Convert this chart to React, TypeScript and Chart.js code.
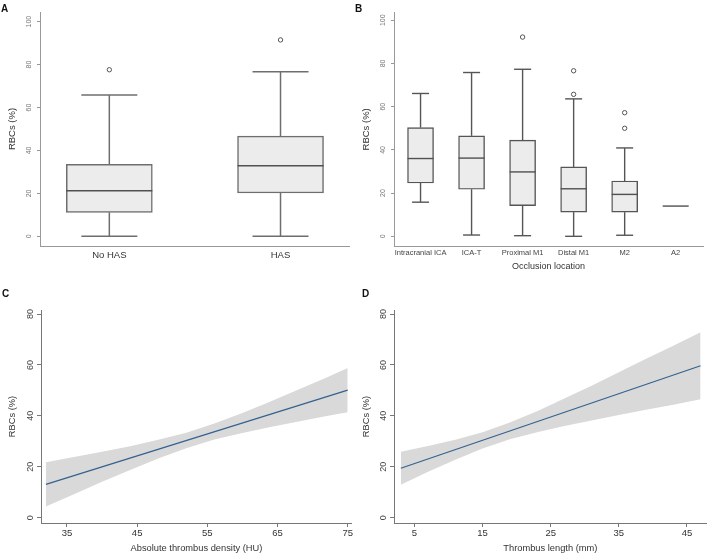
import React, { useEffect, useRef } from 'react';
import { Chart, registerables } from 'chart.js';

Chart.register(...registerables);

const FONT = '"Liberation Sans", Arial, Helvetica, sans-serif';

// ---------- Panel A : HAS ----------
const groupsA = ['No HAS', 'HAS'];
const minA = [0, 0];
const q1A = [11.2, 20.2];
const medA = [21.2, 32.9];
const q3A = [33.5, 46.7];
const maxA = [65.8, 76.7];
const outlierPosA = [1, 2];
const outlierValA = [77.6, 91.5];

// ---------- Panel B : occlusion location ----------
const locationsB = ['Intracranial ICA', 'ICA-T', 'Proximal M1', 'Distal M1', 'M2', 'A2'];
const minB = [15.8, 0.6, 0.3, 0, 0.5, 14];
const q1B = [24.7, 21.8, 14.2, 11.2, 11.2, 14];
const medB = [36, 36.2, 29.8, 22, 19.4, 14];
const q3B = [50.3, 46.5, 44.5, 32.1, 25.6, 14];
const maxB = [66.1, 75.8, 77.3, 63.6, 40.9, 14];
const outlierPosB = [3, 4, 4, 5, 5];
const outlierValB = [92.2, 76.6, 65.7, 57.2, 50.0];

const boxYTicks = [0, 20, 40, 60, 80, 100];

// ---------- Panel C : density ----------
const densityX = [32, 36, 40, 44, 48, 52, 56, 60, 64, 68, 72, 75];
const densityUpper = [21.8, 23.8, 25.9, 28.1, 30.6, 33.4, 37.0, 41.1, 45.6, 50.4, 55.1, 58.8];
const densityLower = [4.4, 9.2, 14.1, 18.7, 23.2, 27.3, 30.7, 33.3, 35.6, 37.8, 39.9, 41.4];
const densityFitX = [32, 75];
const densityFitY = [13.1, 50.1];
const densityTicks = [35, 45, 55, 65, 75];

// ---------- Panel D : length ----------
const lengthX = [3, 7, 11, 15, 19, 23, 27, 31, 35, 39, 43, 47];
const lengthUpper = [25.9, 28.2, 30.6, 33.6, 37.4, 41.8, 46.8, 51.8, 57.1, 62.4, 67.6, 72.9];
const lengthLower = [12.9, 18.0, 22.8, 27.2, 30.8, 33.6, 36.0, 38.2, 40.3, 42.4, 44.4, 46.5];
const lengthFitX = [3, 47];
const lengthFitY = [19.4, 59.7];
const lengthTicks = [5, 15, 25, 35, 45];

const fitYTicks = [0, 20, 40, 60, 80];

type BoxSpec = {
  labels: string[];
  min: number[];
  q1: number[];
  med: number[];
  q3: number[];
  max: number[];
  outPos: number[];
  outVal: number[];
  xMin: number;
  xMax: number;
  yMin: number;
  yMax: number;
  boxW: number;
  capW: number;
  lw: number;
  lineColor: string;
  medColor: string;
  xFont: number;
  xColor: string;
  xPad: number;
  xTitle?: string;
  padTop: number;
  padRight: number;
  xAxisH: number;
};

function boxPlugin(p: BoxSpec) {
  return {
    id: 'boxWhisk',
    beforeDatasetsDraw(chart: any) {
      const { ctx } = chart;
      const xs = chart.scales.x;
      const ys = chart.scales.y;
      ctx.save();
      ctx.strokeStyle = p.lineColor;
      ctx.lineWidth = p.lw;
      p.labels.forEach((_, i) => {
        const x = xs.getPixelForValue(i + 1);
        const seg = (a: number, b: number) => {
          if (a === b) return;
          ctx.beginPath();
          ctx.moveTo(x, ys.getPixelForValue(a));
          ctx.lineTo(x, ys.getPixelForValue(b));
          ctx.stroke();
        };
        const cap = (v: number) => {
          const y = ys.getPixelForValue(v);
          ctx.beginPath();
          ctx.moveTo(x - p.capW / 2, y);
          ctx.lineTo(x + p.capW / 2, y);
          ctx.stroke();
        };
        seg(p.min[i], p.q1[i]);
        seg(p.q3[i], p.max[i]);
        if (p.min[i] < p.q1[i]) cap(p.min[i]);
        if (p.max[i] > p.q3[i]) cap(p.max[i]);
      });
      ctx.restore();
    },
    afterDatasetsDraw(chart: any) {
      const { ctx } = chart;
      const xs = chart.scales.x;
      const ys = chart.scales.y;
      ctx.save();
      ctx.strokeStyle = p.medColor;
      ctx.lineWidth = p.lw;
      p.labels.forEach((_, i) => {
        const x = xs.getPixelForValue(i + 1);
        const y = ys.getPixelForValue(p.med[i]);
        ctx.beginPath();
        ctx.moveTo(x - p.boxW / 2, y);
        ctx.lineTo(x + p.boxW / 2, y);
        ctx.stroke();
      });
      ctx.restore();
    },
  };
}

function boxConfig(p: BoxSpec): any {
  const positions = p.labels.map((_, i) => i + 1);
  return {
    type: 'bar',
    data: {
      datasets: [
        {
          type: 'bar',
          data: positions.map((x, i) => ({ x, y: [p.q1[i], p.q3[i]] })),
          backgroundColor: '#ececec',
          borderColor: p.lineColor,
          borderWidth: p.lw,
          borderSkipped: false,
          barThickness: p.boxW,
          grouped: false,
        },
        {
          type: 'scatter',
          data: p.outPos.map((x, i) => ({ x, y: p.outVal[i] })),
          pointRadius: 2.2,
          pointBorderWidth: 1,
          borderColor: '#555',
          backgroundColor: '#ffffff',
          pointBackgroundColor: '#ffffff',
          pointBorderColor: '#555',
        },
      ],
    },
    options: {
      animation: false,
      responsive: false,
      events: [],
      layout: { padding: { top: p.padTop, right: p.padRight, left: 0, bottom: 0 } },
      plugins: { legend: { display: false }, tooltip: { enabled: false } },
      scales: {
        x: {
          type: 'linear',
          min: p.xMin,
          max: p.xMax,
          offset: false,
          afterBuildTicks: (s: any) => {
            s.ticks = positions.map((v) => ({ value: v }));
          },
          ticks: {
            callback: (v: any) => p.labels[Math.round(Number(v)) - 1] ?? '',
            font: { family: FONT, size: p.xFont },
            color: p.xColor,
            padding: p.xPad,
            autoSkip: false,
            maxRotation: 0,
            minRotation: 0,
          },
          grid: { display: false, drawTicks: false },
          border: { display: true, color: '#999', width: 1 },
          title: p.xTitle
            ? {
                display: true,
                text: p.xTitle,
                font: { family: FONT, size: 9 },
                color: '#333',
                padding: { top: 0, bottom: 5.6 },
              }
            : { display: false },
          afterFit: (s: any) => {
            s.height = p.xAxisH;
          },
        },
        y: {
          min: p.yMin,
          max: p.yMax,
          afterBuildTicks: (s: any) => {
            s.ticks = boxYTicks.map((v) => ({ value: v }));
          },
          ticks: {
            font: { family: FONT, size: 7 },
            color: '#777',
            minRotation: 90,
            maxRotation: 90,
            crossAlign: 'center',
            padding: 2,
          },
          grid: {
            display: true,
            drawOnChartArea: false,
            drawTicks: true,
            tickLength: 3,
            color: '#999',
            tickColor: '#999',
            tickWidth: 1,
          },
          border: { display: true, color: '#999', width: 1 },
          title: {
            display: true,
            text: 'RBCs (%)',
            font: { family: FONT, size: 9.5 },
            color: '#333',
            padding: { top: 6.3, bottom: 0 },
          },
          afterFit: (s: any) => {
            s.width = 40;
          },
        },
      },
    },
    plugins: [boxPlugin(p)],
  };
}

type FitSpec = {
  bandX: number[];
  upper: number[];
  lower: number[];
  fitX: number[];
  fitY: number[];
  xTicks: number[];
  xMin: number;
  xMax: number;
  xTitle: string;
  yAxisW: number;
  padRight: number;
};

function fitConfig(p: FitSpec): any {
  return {
    type: 'line',
    data: {
      datasets: [
        {
          data: p.fitX.map((x, i) => ({ x, y: p.fitY[i] })),
          borderColor: '#34618f',
          borderWidth: 1.2,
          pointRadius: 0,
          fill: false,
          order: 0,
        },
        {
          data: p.bandX.map((x, i) => ({ x, y: p.upper[i] })),
          borderColor: 'rgba(0,0,0,0)',
          borderWidth: 0,
          pointRadius: 0,
          fill: '+1',
          backgroundColor: '#d9d9d9',
          tension: 0,
          order: 1,
        },
        {
          data: p.bandX.map((x, i) => ({ x, y: p.lower[i] })),
          borderColor: 'rgba(0,0,0,0)',
          borderWidth: 0,
          pointRadius: 0,
          fill: false,
          tension: 0,
          order: 2,
        },
      ],
    },
    options: {
      animation: false,
      responsive: false,
      events: [],
      layout: { padding: { top: 32, right: p.padRight, left: 0, bottom: 0 } },
      plugins: {
        legend: { display: false },
        tooltip: { enabled: false },
        filler: { drawTime: 'beforeDatasetsDraw' },
      },
      scales: {
        x: {
          type: 'linear',
          min: p.xMin,
          max: p.xMax,
          afterBuildTicks: (s: any) => {
            s.ticks = p.xTicks.map((v) => ({ value: v }));
          },
          ticks: {
            font: { family: FONT, size: 9.5 },
            color: '#333',
            padding: 1,
            autoSkip: false,
            maxRotation: 0,
          },
          grid: {
            display: true,
            drawOnChartArea: false,
            drawTicks: true,
            tickLength: 4,
            color: '#777',
            tickColor: '#777',
          },
          border: { display: true, color: '#777', width: 1 },
          title: {
            display: true,
            text: p.xTitle,
            font: { family: FONT, size: 9.3 },
            color: '#333',
            padding: { top: 0, bottom: 1.5 },
          },
          afterFit: (s: any) => {
            s.height = 33;
          },
        },
        y: {
          min: -2.1,
          max: 81.6,
          afterBuildTicks: (s: any) => {
            s.ticks = fitYTicks.map((v) => ({ value: v }));
          },
          ticks: {
            font: { family: FONT, size: 9 },
            color: '#444',
            minRotation: 90,
            maxRotation: 90,
            crossAlign: 'center',
            padding: 1,
          },
          grid: {
            display: true,
            drawOnChartArea: false,
            drawTicks: true,
            tickLength: 4,
            color: '#777',
            tickColor: '#777',
          },
          border: { display: true, color: '#777', width: 1 },
          title: {
            display: true,
            text: 'RBCs (%)',
            font: { family: FONT, size: 9.3 },
            color: '#333',
            padding: { top: 6.4, bottom: 0 },
          },
          afterFit: (s: any) => {
            s.width = p.yAxisW;
          },
        },
      },
    },
  };
}

function ChartCanvas(props: { left: number; top: number; width: number; height: number; build: () => any }) {
  const ref = useRef<HTMLCanvasElement>(null);
  useEffect(() => {
    const chart = new Chart(ref.current as HTMLCanvasElement, props.build());
    return () => chart.destroy();
  }, []);
  return (
    <canvas
      ref={ref}
      width={props.width}
      height={props.height}
      style={{ position: 'absolute', left: props.left, top: props.top, width: props.width, height: props.height }}
    />
  );
}

const panelLabel = (text: string, left: number, top: number) => (
  <div
    style={{
      position: 'absolute',
      left,
      top,
      fontFamily: FONT,
      fontWeight: 'bold',
      fontSize: 10,
      lineHeight: '10px',
      color: '#111',
    }}
  >
    {text}
  </div>
);

export default function App() {
  return (
    <div style={{ position: 'absolute', left: 0, top: 0, width: 708, height: 556, background: '#fff', overflow: 'hidden' }}>
      <ChartCanvas
        left={0}
        top={0}
        width={354}
        height={278}
        build={() =>
          boxConfig({
            labels: groupsA,
            min: minA,
            q1: q1A,
            med: medA,
            q3: q3A,
            max: maxA,
            outPos: outlierPosA,
            outVal: outlierValA,
            xMin: 0.595,
            xMax: 2.4,
            yMin: -4.5,
            yMax: 104.5,
            boxW: 86,
            capW: 56,
            lw: 1.5,
            lineColor: '#6e6e6e',
            medColor: '#505050',
            xFont: 9.5,
            xColor: '#333',
            xPad: 4,
            padTop: 12,
            padRight: 2,
            xAxisH: 32,
          })
        }
      />
      <ChartCanvas
        left={354}
        top={0}
        width={354}
        height={278}
        build={() =>
          boxConfig({
            labels: locationsB,
            min: minB,
            q1: q1B,
            med: medB,
            q3: q3B,
            max: maxB,
            outPos: outlierPosB,
            outVal: outlierValB,
            xMin: 0.48,
            xMax: 6.535,
            yMin: -4.8,
            yMax: 103.8,
            boxW: 26,
            capW: 17,
            lw: 1.4,
            lineColor: '#555',
            medColor: '#505050',
            xFont: 7.5,
            xColor: '#444',
            xPad: 2,
            xTitle: 'Occlusion location',
            padTop: 12,
            padRight: 1.3,
            xAxisH: 31.3,
          })
        }
      />
      <ChartCanvas
        left={0}
        top={278}
        width={354}
        height={278}
        build={() =>
          fitConfig({
            bandX: densityX,
            upper: densityUpper,
            lower: densityLower,
            fitX: densityFitX,
            fitY: densityFitY,
            xTicks: densityTicks,
            xMin: 31.3,
            xMax: 75.6,
            xTitle: 'Absolute thrombus density (HU)',
            yAxisW: 41,
            padRight: 2,
          })
        }
      />
      <ChartCanvas
        left={354}
        top={278}
        width={354}
        height={278}
        build={() =>
          fitConfig({
            bandX: lengthX,
            upper: lengthUpper,
            lower: lengthLower,
            fitX: lengthFitX,
            fitY: lengthFitY,
            xTicks: lengthTicks,
            xMin: 2,
            xMax: 47.9,
            xTitle: 'Thrombus length (mm)',
            yAxisW: 40,
            padRight: 1.3,
          })
        }
      />
      {panelLabel('A', 1, 4)}
      {panelLabel('B', 355, 4)}
      {panelLabel('C', 2, 289)}
      {panelLabel('D', 362, 289)}
    </div>
  );
}
